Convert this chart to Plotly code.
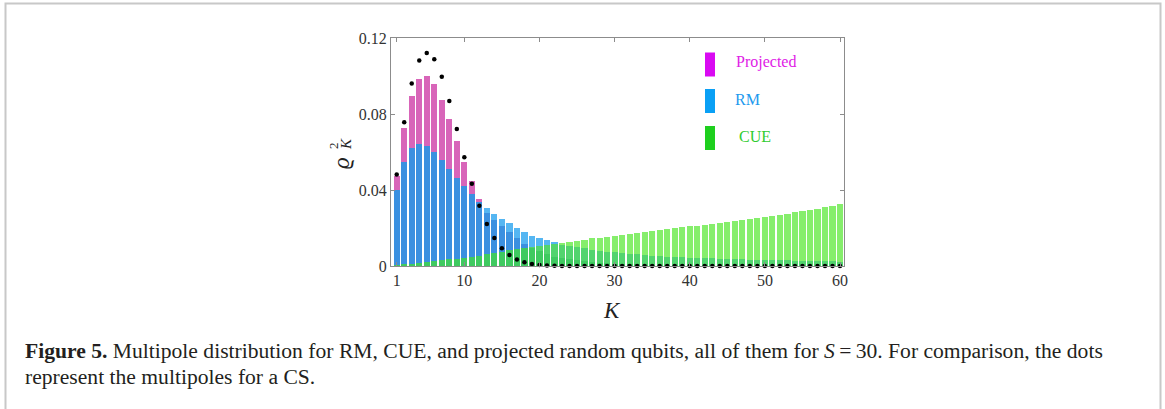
import plotly.graph_objects as go

# Multipole index K
K = list(range(1, 61))

# Squared multipoles for projected random qubits
projected = [0.0475, 0.0725, 0.0896, 0.0984, 0.1000, 0.0958, 0.0875, 0.0772, 0.0658, 0.0547,
             0.0446, 0.0351, 0.0277, 0.0242, 0.0210, 0.0180, 0.0145, 0.0115, 0.0095, 0.0078,
             0.0063, 0.0050, 0.0042, 0.0035, 0.0029, 0.0024, 0.0020, 0.0017, 0.0014, 0.0012,
             0.0010, 0.0009, 0.0008, 0.0007, 0.0006, 0.0005, 0.0005, 0.0004, 0.0004, 0.0003,
             0.0003, 0.0003, 0.0002, 0.0002, 0.0002, 0.0002, 0.0002, 0.0001, 0.0001, 0.0001,
             0.0001, 0.0001, 0.0001, 0.0001, 0.0001, 0.0001, 0.0001, 0.0001, 0.0001, 0.0001]

# Squared multipoles for random matrices (RM)
rm = [0.0400, 0.0546, 0.0619, 0.0642, 0.0632, 0.0598, 0.0558, 0.0512, 0.0465, 0.0421,
      0.0377, 0.0339, 0.0304, 0.0274, 0.0246, 0.0225, 0.0202, 0.0180, 0.0160, 0.0147,
      0.0135, 0.0125, 0.0114, 0.0106, 0.0099, 0.0093, 0.0086, 0.0080, 0.0076, 0.0072,
      0.0068, 0.0064, 0.0061, 0.0058, 0.0055, 0.0053, 0.0050, 0.0048, 0.0046, 0.0044,
      0.0043, 0.0041, 0.0040, 0.0039, 0.0038, 0.0036, 0.0035, 0.0034, 0.0033, 0.0032,
      0.0031, 0.0030, 0.0029, 0.0028, 0.0027, 0.0026, 0.0025, 0.0025, 0.0024, 0.0023]

# Squared multipoles for the circular unitary ensemble (CUE)
cue = [0.0004, 0.0008, 0.0012, 0.0017, 0.0022, 0.0026, 0.0030, 0.0035, 0.0039, 0.0044,
       0.0049, 0.0055, 0.0061, 0.0067, 0.0074, 0.0082, 0.0090, 0.0097, 0.0102, 0.0107,
       0.0113, 0.0118, 0.0123, 0.0128, 0.0133, 0.0139, 0.0145, 0.0150, 0.0155, 0.0160,
       0.0165, 0.0170, 0.0174, 0.0179, 0.0183, 0.0188, 0.0193, 0.0198, 0.0203, 0.0208,
       0.0213, 0.0218, 0.0223, 0.0228, 0.0233, 0.0238, 0.0243, 0.0248, 0.0253, 0.0259,
       0.0265, 0.0270, 0.0276, 0.0282, 0.0288, 0.0295, 0.0302, 0.0309, 0.0317, 0.0325]

# Squared multipoles for a coherent state (CS), drawn as dots
cs = [0.0482, 0.0756, 0.0960, 0.1081, 0.1121, 0.1088, 0.0996, 0.0868, 0.0721, 0.0572,
      0.0433, 0.0317, 0.0221, 0.0147, 0.0094, 0.0058, 0.0034, 0.0020, 0.0010, 0.0005,
      0.0002, 0.0001, 0, 0, 0, 0, 0, 0, 0, 0,
      0, 0, 0, 0, 0, 0, 0, 0, 0, 0,
      0, 0, 0, 0, 0, 0, 0, 0, 0, 0,
      0, 0, 0, 0, 0, 0, 0, 0, 0, 0]

x_ticks = [1, 10, 20, 30, 40, 50, 60]
y_ticks = [0, 0.04, 0.08, 0.12]
y_tick_text = ["0", "0.04", "0.08", "0.12"]

# Colour of each overlap region of the translucent overlapped bars
REGION_COLORS = {
    frozenset("P"): "#d865b9",
    frozenset("R"): "#55b6f2",
    frozenset("C"): "#86ee6c",
    frozenset("PR"): "#3b90e0",
    frozenset("RC"): "#52d46e",
    frozenset("PC"): "#5acb6a",
    frozenset("PRC"): "#3fca60",
}

# Figure geometry (pixels)
W, H = 1165, 409
L, R, T, B = 391, 844, 38, 266


def px(x):
    return (x - L) / (R - L)


def py(y):
    return (B - y) / (B - T)


series = {"P": projected, "R": rm, "C": cue}
top_base, top_h, top_c = [], [], []
mid_base, mid_h, mid_c = [], [], []
bot_h, bot_c = [], []
for i in range(len(K)):
    ordered = sorted(((series[k][i], k) for k in "PRC"), reverse=True)
    (v1, k1), (v2, k2), (v3, k3) = ordered
    top_base.append(v2)
    top_h.append(v1 - v2)
    top_c.append(REGION_COLORS[frozenset(k1)])
    mid_base.append(v3)
    mid_h.append(v2 - v3)
    mid_c.append(REGION_COLORS[frozenset(k1 + k2)])
    bot_h.append(v3)
    bot_c.append(REGION_COLORS[frozenset("PRC")])

fig = go.Figure()
bar_width = 0.82
fig.add_trace(go.Bar(x=K, y=bot_h, base=[0] * len(K), width=bar_width,
                     marker=dict(color=bot_c, line=dict(width=0)), showlegend=False))
fig.add_trace(go.Bar(x=K, y=mid_h, base=mid_base, width=bar_width,
                     marker=dict(color=mid_c, line=dict(width=0)), showlegend=False))
fig.add_trace(go.Bar(x=K, y=top_h, base=top_base, width=bar_width,
                     marker=dict(color=top_c, line=dict(width=0)), showlegend=False))
fig.add_trace(go.Scatter(x=K, y=cs, mode="markers", cliponaxis=False,
                         marker=dict(color="black", size=4.5), showlegend=False))

serif = "Liberation Serif"
axis_common = dict(showline=True, linecolor="#8c8c8c", linewidth=1, mirror="ticks",
                   ticks="inside", ticklen=4, tickcolor="#8c8c8c", showgrid=False,
                   zeroline=False, tickfont=dict(family=serif, size=16, color="#333333"))

fig.update_layout(
    width=W, height=H,
    margin=dict(l=L, r=W - R, t=T, b=H - B, pad=0),
    paper_bgcolor="white", plot_bgcolor="white",
    barmode="overlay", bargap=0,
    xaxis=dict(range=[0.24, 60.53], tickvals=x_ticks, ticktext=[str(t) for t in x_ticks],
               **axis_common),
    yaxis=dict(range=[0, 0.12], tickvals=y_ticks, ticktext=y_tick_text, **axis_common),
)

annotations = []
shapes = []


def label(x, y, text, size, color="#222222", angle=0, xanchor="center", family=serif):
    annotations.append(dict(x=px(x), y=py(y), xref="paper", yref="paper", showarrow=False,
                            xanchor=xanchor, yanchor="middle", text=text, textangle=angle,
                            font=dict(family=family, size=size, color=color)))


# Axis titles
label(612, 310, "<i>K</i>", 23)
label(341, 163, "<i>ϱ</i>", 23, angle=-90)
label(346, 144, "<i>K</i>", 15, angle=-90)
label(333, 146, "2", 13, angle=-90)

# Legend inside the plot
legend_items = [
    ("Projected", "#d90af2", "#e020e6", 64.5, 734),
    ("RM", "#0aa0f5", "#2299ee", 101, 733),
    ("CUE", "#1ecf1e", "#30cc30", 138, 737),
]
for name, swatch, text_color, yc, xt in legend_items:
    shapes.append(dict(type="rect", xref="paper", yref="paper",
                       x0=px(705), x1=px(715), y0=py(yc + 12), y1=py(yc - 12),
                       fillcolor=swatch, line=dict(width=0)))
    label(xt, yc - 2, name, 16, color=text_color, xanchor="left")

# Caption below the chart
caption_1 = ("<b>Figure 5.</b> Multipole distribution for RM, CUE, and projected random qubits, "
             "all of them for <i>S</i>\u2009=\u200930. For comparison, the dots")
caption_2 = "represent the multipoles for a CS."
label(23, 351, caption_1, 21.6, color="#231f20", xanchor="left")
label(23, 377, caption_2, 21.6, color="#231f20", xanchor="left")

# Grey frame around the figure
shapes.append(dict(type="rect", xref="paper", yref="paper", layer="below",
                   x0=px(5.5), x1=px(1160.5), y0=py(430), y1=py(3.5),
                   line=dict(color="#c8c8c8", width=2), fillcolor="rgba(0,0,0,0)"))

fig.update_layout(annotations=annotations, shapes=shapes)
fig.write_html("out.html")
